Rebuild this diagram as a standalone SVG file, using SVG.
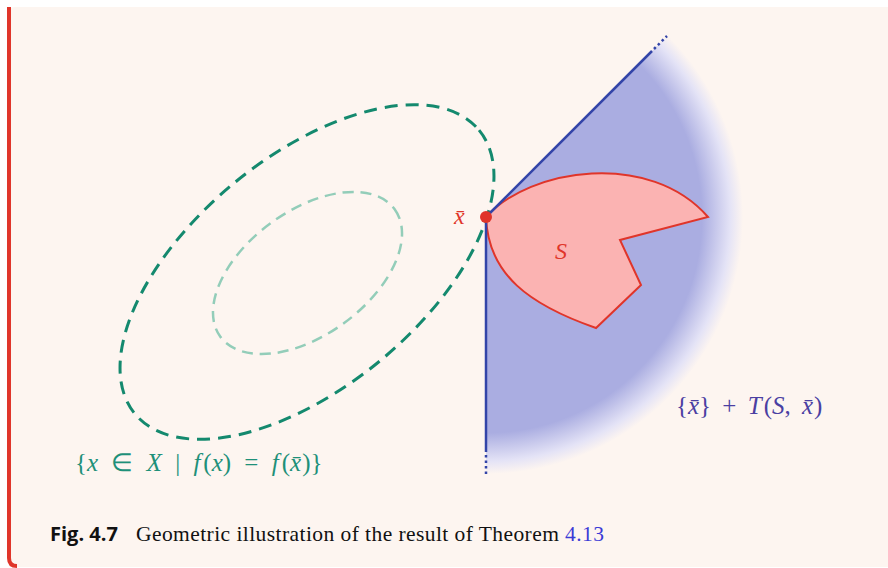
<svg xmlns="http://www.w3.org/2000/svg" width="888" height="568" viewBox="0 0 888 568">
<style>
.serif{font-family:"Liberation Serif","Times New Roman",serif;}
.it{font-style:italic;}
.ray{stroke:#3344A8;stroke-width:2.5;fill:none;}
.dot{stroke:#3344A8;stroke-width:2.5;fill:none;stroke-dasharray:2.5 3;}
</style>
<defs>
<radialGradient id="coneGrad" gradientUnits="userSpaceOnUse" cx="486" cy="217" r="257">
<stop offset="0" stop-color="#AAADE1"/>
<stop offset="0.84" stop-color="#AAADE1"/>
<stop offset="0.95" stop-color="#E4E3F6"/>
<stop offset="1" stop-color="#FDF5F0"/>
</radialGradient>
</defs>
<rect x="0" y="0" width="888" height="568" fill="#FFFFFF"/>
<g id="frame">
<rect x="7" y="7" width="900" height="560" rx="8" fill="#FDF5F0"/>
<path d="M9,7 L9,558 Q9,566 17,566" stroke="#E0352A" stroke-width="4" fill="none"/>
</g>
<g id="cone">
<path d="M486,217 L667.7,35.3 A257,257 0 0 1 486,474 Z" fill="url(#coneGrad)"/>
</g>
<g id="level-sets">
<ellipse cx="307" cy="272" rx="223" ry="115" transform="rotate(-39.5 307 272)" fill="none" stroke="#14896E" stroke-width="3" stroke-dasharray="13 8"/>
<ellipse cx="307.5" cy="273" rx="108" ry="62" transform="rotate(-36.2 307.5 273)" fill="none" stroke="#93CDB9" stroke-width="2.5" stroke-dasharray="11 7"/>
</g>
<g id="S">
<path d="M486,217 C530,168 650,150 708,217 L620,240 L641,285 L596,328 C530,305 488,275 486,217 Z" fill="#FBB3B2" stroke="#E0352A" stroke-width="2"/>
<text x="555" y="259" class="serif it" font-size="24" fill="#E0352A">S</text>
</g>
<g id="connectors">
<line class="ray" x1="486" y1="217" x2="652" y2="51"/>
<line class="dot" x1="654" y1="49" x2="667" y2="36"/>
<line class="ray" x1="486" y1="217" x2="486" y2="452"/>
<line class="dot" x1="486" y1="455" x2="486" y2="476"/>
</g>
<g id="xbar">
<circle cx="486" cy="217" r="6" fill="#E0352A"/>
<text x="454" y="224" class="serif it" font-size="24" fill="#E0352A">x̄</text>
</g>
<g id="label-level">
<text x="75" y="471" class="serif" font-size="25" fill="#1E9079" word-spacing="7">{<tspan class="it">x</tspan> ∈ <tspan class="it">X</tspan> | <tspan class="it">f</tspan><tspan dx="3">(</tspan><tspan class="it">x</tspan>) = <tspan class="it">f</tspan><tspan dx="3">(</tspan><tspan class="it">x̄</tspan><tspan dx="1">)}</tspan></text>
</g>
<g id="label-cone">
<text x="676" y="414" class="serif" font-size="25" fill="#4B3FA2" word-spacing="5">{<tspan class="it">x̄</tspan>} + <tspan class="it">T</tspan><tspan dx="2">(</tspan><tspan class="it">S</tspan>, <tspan class="it">x̄</tspan><tspan dx="1">)</tspan></text>
</g>
<g id="caption">
<text x="50" y="541" font-family="'Open Sans','DejaVu Sans',sans-serif" font-weight="bold" font-size="19" fill="#111111" textLength="68" lengthAdjust="spacingAndGlyphs">Fig. 4.7</text>
<text x="136" y="541" class="serif" font-size="21.5" fill="#111111" textLength="468" lengthAdjust="spacing">Geometric illustration of the result of Theorem <tspan fill="#3B3BD6">4.13</tspan></text>
</g>
</svg>
